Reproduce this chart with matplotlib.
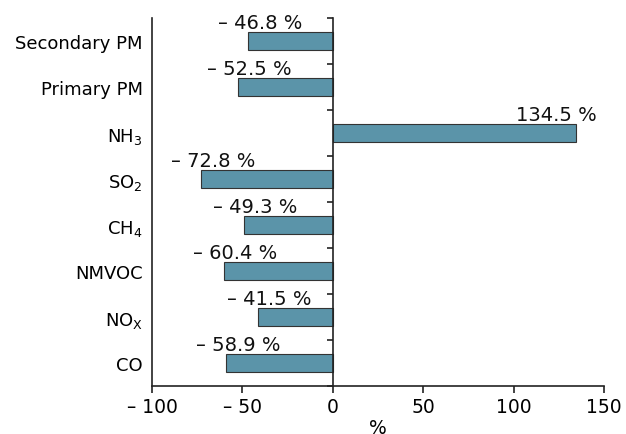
import numpy as np
import matplotlib
matplotlib.use('Agg')
import matplotlib.pyplot as plt

# data (bottom to top)
categories = ['CO', 'NO$_\\mathrm{X}$', 'NMVOC', 'CH$_\\mathrm{4}$', 'SO$_\\mathrm{2}$',
              'NH$_\\mathrm{3}$', 'Primary PM', 'Secondary PM']
values = [-58.9, -41.5, -60.4, -49.3, -72.8, 134.5, -52.5, -46.8]
xticks = [-100, -50, 0, 50, 100, 150]
xtick_labels = ['\u2013 100', '\u2013 50', '0', '50', '100', '150']

plt.rcParams['mathtext.default'] = 'regular'
fs = 13.5

fig = plt.figure(figsize=(6.26, 4.35), dpi=100)
ax = fig.add_axes([0.2428, 0.1103, 0.7222, 0.8460])

y = np.arange(len(categories))
ax.barh(y, values, height=0.4, color='#5b94a9', edgecolor='#333333', linewidth=0.8, zorder=2)

for yi, v in zip(y, values):
    if v < 0:
        txt = '\u2013 %.1f %%' % abs(v)
        xt = v + 6.5
    else:
        txt = '%.1f %%' % v
        xt = v - 11
    ax.text(xt, yi + 0.2, txt, ha='center', va='bottom', fontsize=14, color='#111111')

ax.set_xlim(-100, 150)
ax.set_ylim(-0.5, 7.5)

ax.set_yticks(y)
ax.set_yticklabels(categories)
ax.set_yticks(np.arange(-0.5, 7.6, 1.0), minor=True)
ax.tick_params(axis='y', which='major', left=False, right=False, pad=3, labelsize=13)
ax.tick_params(axis='y', which='minor', left=False, right=True, direction='in',
               length=4, width=1.2, color='#222222')

ax.set_xticks(xticks)
ax.set_xticklabels(xtick_labels)
ax.tick_params(axis='x', direction='out', length=5, width=1.2, color='#222222', pad=3,
               labelsize=fs)
ax.set_xlabel('%', fontsize=fs, labelpad=1)

ax.spines['top'].set_visible(False)
ax.spines['right'].set_position(('data', 0))
for s in ['left', 'bottom', 'right']:
    ax.spines[s].set_linewidth(1.2)
    ax.spines[s].set_color('#222222')

fig.savefig('out.png', dpi=100)
